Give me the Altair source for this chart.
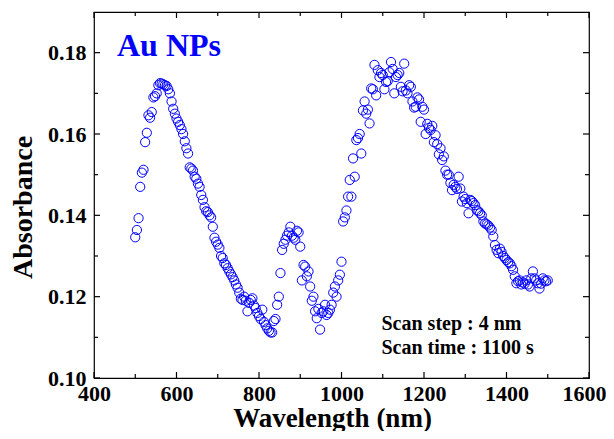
import altair as alt
import pandas as pd

# ---------------- data ----------------
wavelength = list(range(500, 1504, 4))  # scan step 4 nm
absorbance = [
    0.1346, 0.1364, 0.1393, 0.1470, 0.1505, 0.1512, 0.1580, 0.1603, 0.1646, 0.1640,
    0.1654, 0.1690, 0.1693, 0.1700, 0.1720, 0.1725, 0.1724, 0.1722, 0.1720, 0.1718,
    0.1710, 0.1700, 0.1680, 0.1662, 0.1650, 0.1638, 0.1630, 0.1622, 0.1612, 0.1600,
    0.1582, 0.1565, 0.1552, 0.1518, 0.1515, 0.1510, 0.1495, 0.1490, 0.1478, 0.1470,
    0.1450, 0.1438, 0.1420, 0.1410, 0.1408, 0.1400, 0.1395, 0.1372, 0.1345, 0.1335,
    0.1328, 0.1320, 0.1300, 0.1295, 0.1282, 0.1278, 0.1270, 0.1262, 0.1255, 0.1248,
    0.1240, 0.1230, 0.1222, 0.1210, 0.1195, 0.1192, 0.1200, 0.1190, 0.1164, 0.1185,
    0.1192, 0.1196, 0.1178, 0.1172, 0.1160, 0.1152, 0.1145, 0.1168, 0.1138, 0.1130,
    0.1122, 0.1116, 0.1112, 0.1112, 0.1140, 0.1145, 0.1180, 0.1200, 0.1258, 0.1315,
    0.1330, 0.1340, 0.1350, 0.1358, 0.1372, 0.1350, 0.1345, 0.1340, 0.1362, 0.1358,
    0.1323, 0.1240, 0.1278, 0.1274, 0.1250, 0.1262, 0.1225, 0.1190, 0.1200, 0.1164,
    0.1147, 0.1170, 0.1119, 0.1160, 0.1164, 0.1180, 0.1155, 0.1160, 0.1168, 0.1180,
    0.1210, 0.1225, 0.1200, 0.1240, 0.1254, 0.1286, 0.1385, 0.1395, 0.1412, 0.1446,
    0.1487, 0.1446, 0.1540, 0.1495, 0.1585, 0.1590, 0.1600, 0.1552, 0.1658, 0.1680,
    0.1650, 0.1660, 0.1626, 0.1712, 0.1710, 0.1770, 0.1695, 0.1757, 0.1740, 0.1750,
    0.1745, 0.1710, 0.1728, 0.1730, 0.1752, 0.1777, 0.1760, 0.1700, 0.1740, 0.1745,
    0.1750, 0.1716, 0.1705, 0.1773, 0.1707, 0.1700, 0.1720, 0.1716, 0.1680, 0.1665,
    0.1667, 0.1690, 0.1685, 0.1630, 0.1667, 0.1660, 0.1600, 0.1625, 0.1615, 0.1610,
    0.1620, 0.1580, 0.1597, 0.1575, 0.1550, 0.1565, 0.1536, 0.1545, 0.1510, 0.1500,
    0.1500, 0.1480, 0.1462, 0.1475, 0.1470, 0.1465, 0.1495, 0.1466, 0.1434, 0.1446,
    0.1440, 0.1430, 0.1405, 0.1438, 0.1435, 0.1430, 0.1425, 0.1413, 0.1410, 0.1405,
    0.1400, 0.1385, 0.1380, 0.1378, 0.1375, 0.1370, 0.1364, 0.1348, 0.1327, 0.1315,
    0.1307, 0.1318, 0.1310, 0.1300, 0.1295, 0.1290, 0.1285, 0.1282, 0.1275, 0.1266,
    0.1250, 0.1233, 0.1238, 0.1240, 0.1230, 0.1235, 0.1232, 0.1240, 0.1230, 0.1225,
    0.1245, 0.1262, 0.1245, 0.1240, 0.1233, 0.1220, 0.1232, 0.1245, 0.1240, 0.1238,
    0.1240,
]
x_major = [400, 600, 800, 1000, 1200, 1400, 1600]
x_minor = [500, 700, 900, 1100, 1300, 1500]
y_major = [0.10, 0.12, 0.14, 0.16, 0.18]
y_minor = [0.11, 0.13, 0.15, 0.17]
label_text = ["Au NPs"]
note_lines = ["Scan step : 4 nm", "Scan time : 1100 s"]

# ---------------- styling ----------------
W, H = 495, 366
FONT = "Liberation Serif"
BLUE = "#0000ff"
MAJ, MIN = 6, 4

xs = alt.Scale(domain=[400, 1600], nice=False, zero=False)
ys = alt.Scale(domain=[0.10, 0.19], nice=False, zero=False)

x_axis = alt.Axis(
    values=x_major, format="d", title="Wavelength (nm)",
    ticks=False, tickSize=0, domain=False, grid=False,
    labelFont=FONT, labelFontWeight="bold", labelFontSize=22, labelColor="black",
    labelPadding=5, labelFlush=False,
    labelOffset={"condition": {"test": "datum.value == 1600", "value": -5}, "value": 0},
    titleFont=FONT, titleFontWeight="bold", titleFontSize=27, titleColor="black",
    titleX=238, titleY=48, titleBaseline="alphabetic", titleAlign="center")
y_axis = alt.Axis(
    values=y_major, format=".2f", title="Absorbance",
    ticks=False, tickSize=0, domain=False, grid=False,
    labelFont=FONT, labelFontWeight="bold", labelFontSize=22, labelColor="black",
    labelPadding=8, labelFlush=False,
    titleFont=FONT, titleFontWeight="bold", titleFontSize=28, titleColor="black",
    titleX=-62.5, titleY=195, titleBaseline="alphabetic", titleAlign="center")

df = pd.DataFrame({"wl": wavelength, "abs": absorbance})

points = alt.Chart(df).mark_point(
    shape="circle", filled=False, color=BLUE, size=85, strokeWidth=1, opacity=1
).encode(
    x=alt.X("wl:Q", scale=xs, axis=x_axis),
    y=alt.Y("abs:Q", scale=ys, axis=y_axis),
)


def yticks(vals, x0, x1):
    return alt.Chart(pd.DataFrame({"abs": vals})).mark_rule(color="black", strokeWidth=1.2).encode(
        y=alt.Y("abs:Q", scale=ys, axis=y_axis), x=alt.value(x0), x2=alt.value(x1))


def xticks(vals, y0, y1):
    return alt.Chart(pd.DataFrame({"wl": vals})).mark_rule(color="black", strokeWidth=1.2).encode(
        x=alt.X("wl:Q", scale=xs, axis=x_axis), y=alt.value(y0), y2=alt.value(y1))


tick_layers = [
    yticks(y_major, 0, MAJ), yticks(y_minor, 0, MIN),
    yticks(y_major, W, W - MAJ), yticks(y_minor, W, W - MIN),
    xticks(x_major, H, H - MAJ), xticks(x_minor, H, H - MIN),
    xticks(x_major, 0, MAJ), xticks(x_minor, 0, MIN),
]

title_layer = alt.Chart(pd.DataFrame({"t": label_text})).mark_text(
    font=FONT, fontWeight="bold", fontSize=32, color=BLUE, align="left", baseline="alphabetic"
).encode(x=alt.value(23), y=alt.value(44.4), text="t:N")

note_layers = []
for i, line in enumerate(note_lines):
    note_layers.append(
        alt.Chart(pd.DataFrame({"t": [line]})).mark_text(
            font=FONT, fontWeight="bold", fontSize=20, color="black", align="left", baseline="alphabetic"
        ).encode(x=alt.value(287.5), y=alt.value(317.7 + i * 24.3), text="t:N")
    )

chart = alt.layer(points, *tick_layers, title_layer, *note_layers).properties(
    width=W, height=H,
    autosize=alt.AutoSizeParams(type="none"),
    padding={"left": 86, "top": 4, "right": 17, "bottom": 53},
    background="white",
).configure_view(stroke="black", strokeWidth=1.2)

chart.save("out.html", embed_options={"renderer": "svg", "actions": False})
